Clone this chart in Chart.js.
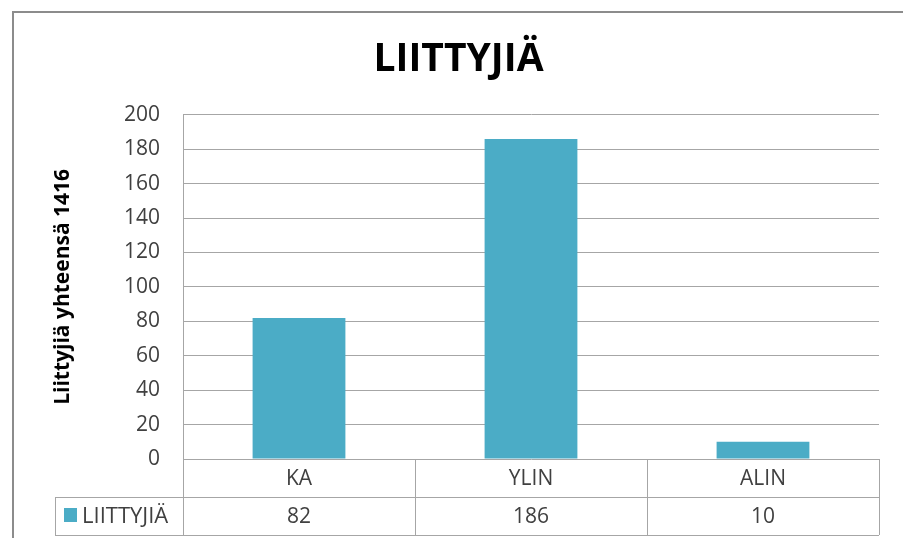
<!DOCTYPE html>
<html>
<head>
<meta charset="utf-8">
<script src="https://cdn.jsdelivr.net/npm/chart.js@4.4.1/dist/chart.umd.min.js"></script>
<style>
  html, body { margin: 0; padding: 0; background: #fff; }
  #wrap { width: 903px; height: 538px; position: relative; }
</style>
</head>
<body>
<div id="wrap"><canvas id="chart" width="903" height="538"></canvas></div>
<script>
const categories = ["KA", "YLIN", "ALIN"];
const seriesLabel = "LIITTYJIÄ";
const liittyjia = [82, 186, 10];
const yMin = 0;
const yMax = 200;
const yStep = 20;

const colors = {
  bar: "#4bacc6",
  grid: "#a6a6a6",
  text: "#404040",
  frame: "#8c8c8c",
};
const baseFont = "'Open Sans', 'Liberation Sans', sans-serif";

// Excel style frame plus the data table under the plot
const tablePlugin = {
  id: "dataTable",
  afterLayout(chart) {
    // the original frame runs past the right edge, so the title sits a bit right of centre
    chart.titleBlock.right += 26;
  },
  beforeDraw(chart) {
    const { ctx } = chart;
    ctx.save();
    ctx.fillStyle = "#fff";
    ctx.fillRect(0, 0, chart.width, chart.height);
    ctx.strokeStyle = colors.frame;
    ctx.lineWidth = 2;
    ctx.beginPath();
    ctx.moveTo(13, chart.height);
    ctx.lineTo(13, 12);
    ctx.lineTo(chart.width, 12);
    ctx.stroke();
    ctx.restore();
  },
  afterDraw(chart) {
    const { ctx, chartArea } = chart;
    const x = chart.scales.x;
    const top = chartArea.bottom;
    const rowH = 38;
    const mid = top + rowH;
    const bottom = top + rowH * 2;
    const legendLeft = 55;
    const colW = (chartArea.right - chartArea.left) / categories.length;

    ctx.save();
    ctx.strokeStyle = colors.grid;
    ctx.lineWidth = 1;
    ctx.beginPath();
    ctx.moveTo(legendLeft, mid + 0.5);
    ctx.lineTo(chartArea.right, mid + 0.5);
    ctx.moveTo(legendLeft, bottom + 0.5);
    ctx.lineTo(chartArea.right, bottom + 0.5);
    ctx.moveTo(legendLeft + 0.5, mid);
    ctx.lineTo(legendLeft + 0.5, bottom);
    for (let i = 0; i <= categories.length; i++) {
      const px = Math.round(chartArea.left + colW * i) + 0.5;
      ctx.moveTo(px, top);
      ctx.lineTo(px, bottom);
    }
    ctx.stroke();

    ctx.fillStyle = colors.text;
    ctx.font = "21px " + baseFont;
    ctx.textAlign = "center";
    ctx.textBaseline = "middle";
    categories.forEach((cat, i) => {
      const cx = x.getPixelForValue(i);
      ctx.fillText(cat, cx, top + rowH / 2 + 1);
      ctx.fillText(String(liittyjia[i]), cx, mid + rowH / 2 + 1);
    });

    ctx.fillStyle = colors.bar;
    ctx.fillRect(64, mid + 11, 13, 14);
    ctx.fillStyle = colors.text;
    ctx.textAlign = "left";
    ctx.font = "22px " + baseFont;
    ctx.fillText(seriesLabel, 82, mid + rowH / 2 + 1);
    ctx.restore();
  },
};

new Chart(document.getElementById("chart"), {
  type: "bar",
  data: {
    labels: categories,
    datasets: [{
      label: seriesLabel,
      data: liittyjia,
      backgroundColor: colors.bar,
      borderWidth: 0,
      categoryPercentage: 1,
      barPercentage: 0.4,
    }],
  },
  options: {
    responsive: false,
    animation: false,
    layout: { padding: { left: 12, right: 24, top: 0, bottom: 0 } },
    plugins: {
      legend: { display: false },
      tooltip: { enabled: false },
      title: {
        display: true,
        text: "LIITTYJIÄ",
        color: "#000",
        font: { family: baseFont, size: 39, weight: "bold", lineHeight: 1.2 },
        padding: { top: 36, bottom: 32 },
      },
    },
    scales: {
      x: {
        ticks: { display: false },
        grid: { display: false },
        border: { display: false },
        afterFit(scale) { scale.height = 79; },
      },
      y: {
        min: yMin,
        max: yMax,
        ticks: {
          stepSize: yStep,
          padding: 23,
          color: colors.text,
          font: { family: baseFont, size: 21 },
        },
        grid: { color: colors.grid, drawTicks: false },
        border: { display: true, color: colors.grid },
        title: {
          display: true,
          text: "Liittyjiä yhteensä 1416",
          color: "#000",
          font: { family: baseFont, size: 21, weight: "bold", lineHeight: 1.2 },
          padding: { top: 38, bottom: 0 },
        },
        afterFit(scale) { scale.width = 171; },
      },
    },
  },
  plugins: [tablePlugin],
});
</script>
</body>
</html>
